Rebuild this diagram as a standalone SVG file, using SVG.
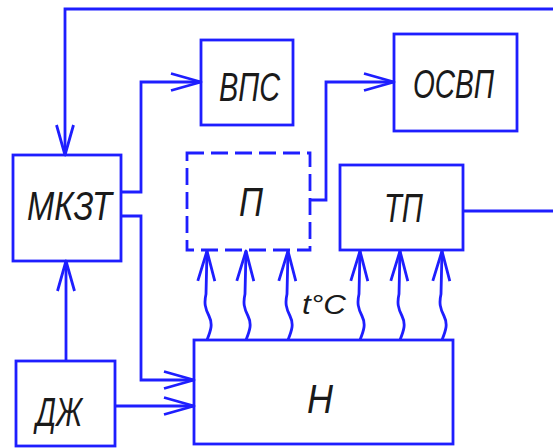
<svg xmlns="http://www.w3.org/2000/svg" width="553" height="448" viewBox="0 0 553 448">
<defs>
<style>
.box{fill:none;stroke:#1e1eff;stroke-width:2.8}
.dash{stroke-dasharray:17 7}
.ln{fill:none;stroke:#1e1eff;stroke-width:2.8;stroke-linejoin:miter}
.arr{marker-end:url(#ah)}
.t{font-family:"Liberation Sans","DejaVu Sans",sans-serif;font-style:italic;font-size:41px;fill:#1a1a1a}
.s{font-size:27px}
</style>
<marker id="ah" markerUnits="userSpaceOnUse" markerWidth="34" markerHeight="24" viewBox="-32 -12 34 24" refX="0" refY="0" orient="auto" overflow="visible">
<path d="M-30,-8.5 L0,0 L-30,8.5" fill="none" stroke="#1e1eff" stroke-width="2.8" stroke-linejoin="round"/>
</marker>
</defs>
<rect width="553" height="448" fill="#ffffff"/>
<g id="connectors">
<path class="ln arr" d="M553,9 H65 V155"/>
<path class="ln" d="M463,211 H553"/>
<path class="ln arr" d="M121,192 H141 V82 H201"/>
<path class="ln arr" d="M121,216 H141 V380 H194"/>
<path class="ln arr" d="M66,361 V261"/>
<path class="ln arr" d="M115,406 H194"/>
<path class="ln arr" d="M310,200 H326 V82 H394"/>
<path class="ln arr" d="M207,340 c4,-10 6,-16 2,-24 c-4,-8 -5,-13 -3,-22 l1,-43"/>
<path class="ln arr" d="M246,340 c4,-10 6,-16 2,-24 c-4,-8 -5,-13 -3,-22 l1,-43"/>
<path class="ln arr" d="M288,340 c4,-10 6,-16 2,-24 c-4,-8 -5,-13 -3,-22 l1,-43"/>
<path class="ln arr" d="M360,340 c4,-10 6,-16 2,-24 c-4,-8 -5,-13 -3,-22 l1,-43"/>
<path class="ln arr" d="M400,340 c4,-10 6,-16 2,-24 c-4,-8 -5,-13 -3,-22 l1,-43"/>
<path class="ln arr" d="M442,340 c4,-10 6,-16 2,-24 c-4,-8 -5,-13 -3,-22 l1,-43"/>
<text class="t s" x="302" y="314" textLength="44" lengthAdjust="spacingAndGlyphs">t°C</text>
</g>
<g id="mkzt">
<rect class="box" x="13" y="155" width="108" height="106"/>
<text class="t" x="27" y="220" textLength="85" lengthAdjust="spacingAndGlyphs">МКЗТ</text>
</g>
<g id="vps">
<rect class="box" x="201" y="40" width="92" height="85"/>
<text class="t" x="219" y="101" textLength="61" lengthAdjust="spacingAndGlyphs">ВПС</text>
</g>
<g id="osvp">
<rect class="box" x="394" y="34" width="123" height="97"/>
<text class="t" x="413" y="98" textLength="81" lengthAdjust="spacingAndGlyphs">ОСВП</text>
</g>
<g id="p">
<rect class="box dash" x="187" y="153" width="123" height="97"/>
<text class="t" x="239" y="216" textLength="24" lengthAdjust="spacingAndGlyphs">П</text>
</g>
<g id="tp">
<rect class="box" x="340" y="165" width="123" height="85"/>
<text class="t" x="384" y="222" textLength="39" lengthAdjust="spacingAndGlyphs">ТП</text>
</g>
<g id="n">
<rect class="box" x="194" y="340" width="259" height="104"/>
<text class="t" x="307" y="413" textLength="26" lengthAdjust="spacingAndGlyphs">Н</text>
</g>
<g id="dzh">
<rect class="box" x="16" y="361" width="99" height="85"/>
<text class="t" x="36" y="426" textLength="46" lengthAdjust="spacingAndGlyphs">ДЖ</text>
</g>
</svg>
